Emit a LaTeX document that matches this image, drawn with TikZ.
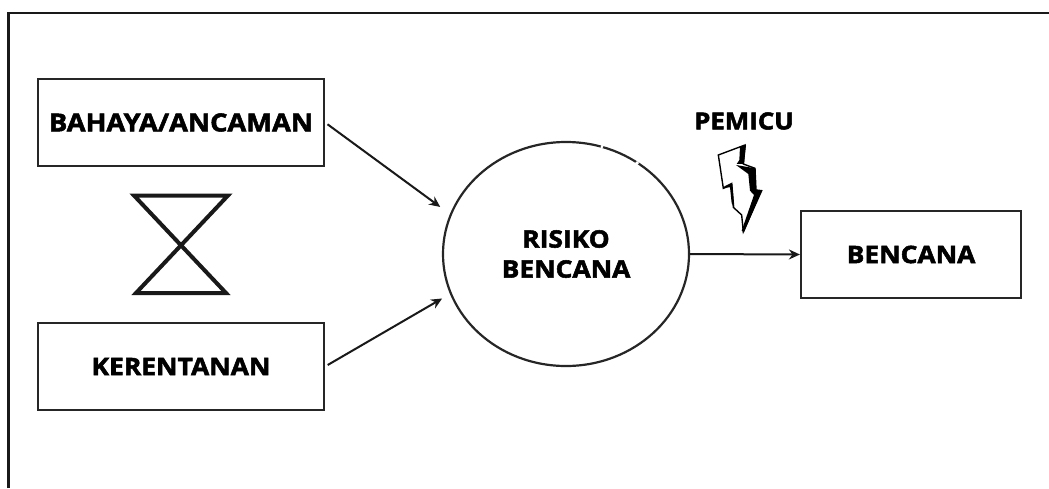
\documentclass[tikz,border=0pt]{standalone}
\usepackage{fontspec}
\setmainfont[BoldFeatures={FakeBold=2.2,FakeStretch=1.1}]{Open Sans}
\usetikzlibrary{arrows.meta,shapes.geometric}
\tikzset{
  box/.style={draw=black!85,line width=2.2pt,inner sep=0pt,font=\fontsize{24}{24}\selectfont\bfseries,text=black},
  conn/.style={draw=black!90,line width=2pt,-{Stealth[length=11pt,width=10pt]}},
  hourglass/.style={draw=black!90,line width=4pt,line join=miter},
}
\begin{document}
\begin{tikzpicture}[x=1pt,y=-1pt]
\useasboundingbox (0,0) rectangle (1049,488);
\draw[line width=2.6pt,black!90] (8.5,488) -- (8.5,13) -- (1049,13);
\node[box,font=\fontsize{24.8}{24.8}\selectfont\bfseries,minimum width=286pt,minimum height=87pt] (bahaya) at (181,122.5) {BAHAYA/ANCAMAN};
\node[box,minimum width=286pt,minimum height=87pt] (kerentan) at (181,366.5) {KERENTANAN};
\node[box,minimum width=220pt,minimum height=87pt] (bencana) at (911,254.5) {BENCANA};
\node[box,ellipse,minimum width=246pt,minimum height=224pt,align=center] (risiko) at (566,254) {RISIKO\\[6pt]BENCANA};
\node[font=\fontsize{23.5}{23.5}\selectfont\bfseries] (pemicu) at (744,121) {PEMICU};
\draw[conn,shorten >=12pt,shorten <=3pt] (bahaya.east) -- (risiko.161.9);
\draw[conn,shorten >=9pt,shorten <=3pt] (kerentan.east) -- (risiko.199.1);
\draw[conn] (risiko.east) -- (bencana.west);
% white gaps in the circle
\draw[white,line width=3pt] (601,146) -- (603,147);
\draw[white,line width=3pt] (636,162) -- (638,164);
% hourglass
\draw[hourglass] (134,195.5) -- (228,195.5) -- (136,293) -- (226,293) -- cycle;
% lightning
\begin{scope}[shift={(680,100)},x=0.3333pt,y=-0.3333pt]
\draw[fill=white,line width=1.4pt,line join=miter] (115,165) -- (195,135) -- (190,192) -- (225,205) -- (228,270) -- (245,272) -- (190,395) -- (185,345) -- (160,322) -- (155,255) -- (130,265) -- cycle;
\fill[black] (180,140) -- (198,135) -- (192,192) -- (170,192) -- (178,180) -- cycle;
\fill[black] (168,195) -- (226,205) -- (228,270) -- (245,272) -- (192,397) -- (185,392) -- (222,285) -- (210,272) -- (205,222) -- cycle;
\fill[black] (128,262) -- (157,247) -- (163,320) -- (155,310) -- (150,262) -- cycle;
\end{scope}
\end{tikzpicture}
\end{document}
